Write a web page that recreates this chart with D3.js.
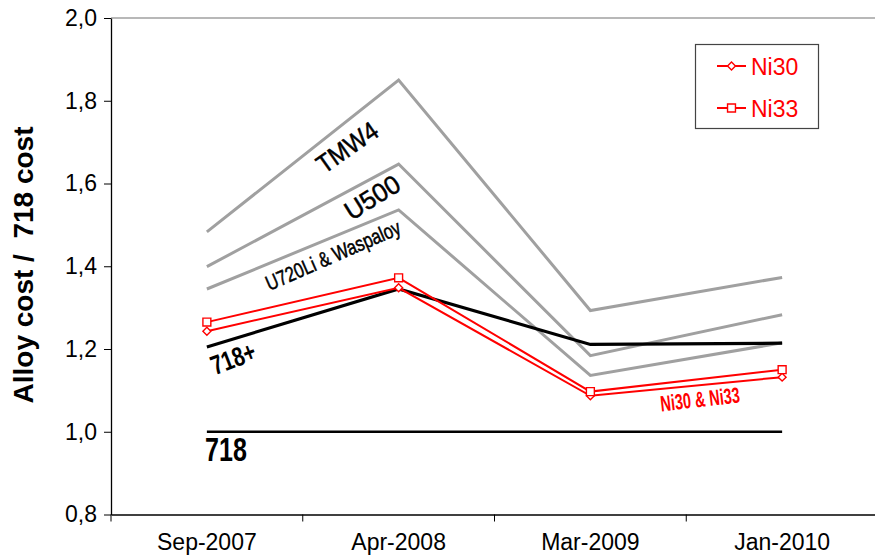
<!DOCTYPE html>
<html><head><meta charset="utf-8">
<script src="https://cdn.jsdelivr.net/npm/d3@7"></script>
<style>
body{margin:0;background:#fff;}
svg{display:block;font-family:"Liberation Sans",Arial,sans-serif;}
</style></head>
<body>
<script>
const categories = ["Sep-2007","Apr-2008","Mar-2009","Jan-2010"];
const tmw4 = [1.483, 1.850, 1.293, 1.373];
const u500 = [1.399, 1.647, 1.184, 1.283];
const u720 = [1.345, 1.536, 1.136, 1.215];
const a718plus = [1.205, 1.345, 1.211, 1.214];
const a718 = [1.0, 1.0, 1.0, 1.0];
const ni30 = [1.243, 1.348, 1.087, 1.132];
const ni33 = [1.265, 1.372, 1.097, 1.150];
const yTicks = [0.8, 1.0, 1.2, 1.4, 1.6, 1.8, 2.0];

const W = 875, H = 558;
const svg = d3.select("body").append("svg").attr("width", W).attr("height", H);

const x = d3.scaleBand().domain(categories).range([111, 878]).padding(0);
const y = d3.scaleLinear().domain([0.8, 2.0]).range([514.5, 18]);
const cx = c => x(c) + x.bandwidth() / 2;
const fmt = d => d3.format(".1f")(d).replace(".", ",");
const FONT = "Liberation Sans, Arial, sans-serif";

// top border
svg.append("line").attr("x1", 111).attr("x2", W).attr("y1", y(2.0)).attr("y2", y(2.0))
  .attr("stroke", "#a0a0a0").attr("stroke-width", 1.5);

// y axis
const yAxis = svg.append("g").attr("transform", "translate(111,0)")
  .call(d3.axisLeft(y).tickValues(yTicks).tickFormat(fmt).tickSize(7).tickSizeOuter(0));
yAxis.select(".domain").attr("stroke", "#000").attr("stroke-width", 1.3);
yAxis.selectAll(".tick line").attr("stroke", "#000");
yAxis.selectAll(".tick text").attr("font-size", 23).attr("fill", "#000").attr("x", -14)
  .attr("font-family", FONT).attr("font-weight", "normal");

// x axis
const xAxis = svg.append("g").attr("transform", `translate(0,${y(0.8)})`)
  .call(d3.axisBottom(x).tickSize(0).tickSizeOuter(0));
xAxis.select(".domain").attr("stroke", "#000").attr("stroke-width", 1.3);
xAxis.selectAll(".tick text").attr("font-size", 23).attr("fill", "#000").attr("dy", 0).attr("y", 35.5)
  .attr("font-family", FONT).attr("font-weight", "normal");
// boundary ticks between categories
const bounds = d3.range(categories.length + 1).map(i => 111 + i * x.bandwidth());
svg.append("g").selectAll("line").data(bounds).join("line")
  .attr("x1", d => d).attr("x2", d => d).attr("y1", y(0.8)).attr("y2", y(0.8) + 7)
  .attr("stroke", "#000").attr("stroke-width", 1);

// y title
svg.append("text").attr("transform", "translate(33,265) rotate(-90)")
  .attr("text-anchor", "middle").attr("font-size", 28).attr("font-weight", "bold")
  .attr("fill", "#000").attr("xml:space", "preserve").text("Alloy cost /  718 cost");

const line = d3.line().x((d, i) => cx(categories[i])).y(d => y(d));

function drawLine(data, color, width) {
  svg.append("path").datum(data).attr("d", line).attr("fill", "none")
    .attr("stroke", color).attr("stroke-width", width).attr("stroke-linejoin", "miter");
}
drawLine(a718, "#000", 2.5);
drawLine(tmw4, "#a0a0a0", 3);
drawLine(u500, "#a0a0a0", 3);
drawLine(u720, "#a0a0a0", 3);
drawLine(a718plus, "#000", 3.2);
drawLine(ni30, "#ff0000", 2);
drawLine(ni33, "#ff0000", 2);

const diamond = d3.symbol().type(d3.symbolDiamond2).size(40);
const square = d3.symbol().type(d3.symbolSquare2).size(80);
function markers(data, sym) {
  svg.append("g").selectAll("path").data(data).join("path")
    .attr("transform", (d, i) => `translate(${cx(categories[i])},${y(d)})`)
    .attr("d", sym).attr("fill", "#fff").attr("stroke", "#ff0000").attr("stroke-width", 1.4);
}
markers(ni30, diamond);
markers(ni33, square);

// labels (px,py = visual centre)
function label(txt, px, py, ang, size, color, stretch, bold) {
  svg.append("text").attr("transform", `translate(${px},${py}) rotate(${ang}) scale(${stretch},1)`)
    .attr("text-anchor", "middle").attr("dy", "0.36em").attr("font-size", size)
    .attr("font-weight", bold ? "bold" : "normal")
    .attr("stroke", color).attr("stroke-width", bold ? 0 : 0.5)
    .attr("fill", color).text(txt);
}
label("TMW4", 347, 147, -35, 26, "#000", 0.9, false);
label("U500", 372, 197, -32, 26, "#000", 0.97, false);
label("U720Li & Waspaloy", 333, 255, -23.6, 21, "#000", 0.79, false);
label("718+", 233, 358, -21, 27, "#000", 0.76, true);
label("718", 226, 449, 0, 33, "#000", 0.76, true);
label("Ni30 & Ni33", 700, 399, -6.5, 22, "#ff0000", 0.66, true);

// legend
const lg = svg.append("g");
lg.append("rect").attr("x", 695.5).attr("y", 44.5).attr("width", 123).attr("height", 84)
  .attr("fill", "#fff").attr("stroke", "#444").attr("stroke-width", 1.2);
const legendItems = [{name: "Ni30", sym: diamond, yy: 66}, {name: "Ni33", sym: square, yy: 108}];
legendItems.forEach(it => {
  lg.append("line").attr("x1", 717).attr("x2", 746).attr("y1", it.yy).attr("y2", it.yy)
    .attr("stroke", "#ff0000").attr("stroke-width", 2);
  lg.append("path").attr("transform", `translate(731.5,${it.yy})`).attr("d", it.sym)
    .attr("fill", "#fff").attr("stroke", "#ff0000").attr("stroke-width", 1.4);
  lg.append("text").attr("x", 751).attr("y", it.yy + 9).attr("font-size", 23)
    .attr("fill", "#ff0000").text(it.name);
});
</script>
</body></html>
